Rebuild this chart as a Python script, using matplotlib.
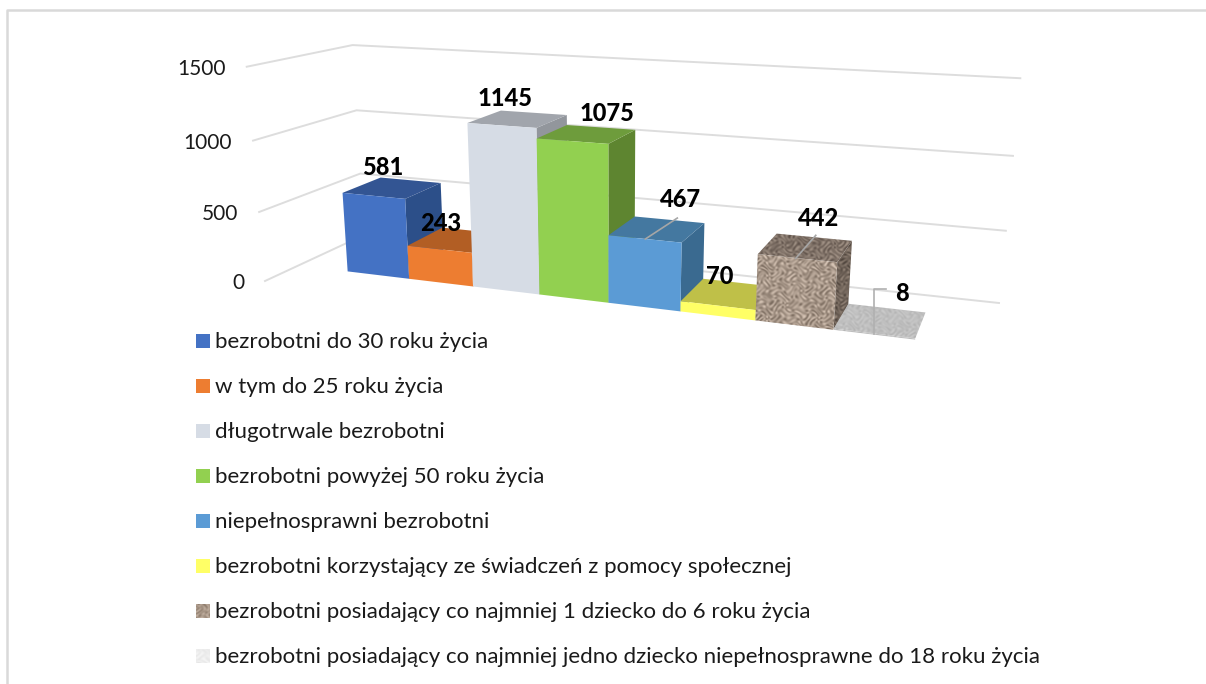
import numpy as np
import matplotlib
matplotlib.use("Agg")
import matplotlib.pyplot as plt
from matplotlib.patches import Polygon

plt.rcParams['font.family'] = ['Lato', 'DejaVu Sans']

categories = [
    "bezrobotni do 30 roku życia",
    "w tym do 25 roku życia",
    "długotrwale bezrobotni",
    "bezrobotni powyżej 50 roku życia",
    "niepełnosprawni bezrobotni",
    "bezrobotni korzystający ze świadczeń z pomocy społecznej",
    "bezrobotni posiadający co najmniej 1 dziecko do 6 roku życia",
    "bezrobotni posiadający co najmniej jedno dziecko niepełnosprawne do 18 roku życia",
]
values = [581, 243, 1145, 1075, 467, 70, 442, 8]
y_ticks = [0, 500, 1000, 1500]

# colours per bar: front, top, side (None = textured)
front_colors = ['#4472C4', '#ED7D31', '#D6DCE5', '#92D050', '#5B9BD5', '#FFFF66', None, None]
top_colors = ['#335593', '#B25E24', '#A1A5AC', '#6E9C3C', '#4478A0', '#BFC048', None, None]
side_colors = ['#2C4F89', '#B25E24', '#92969C', '#5E8530', '#3A6A90', '#BFC048', None, None]
legend_colors = ['#4472C4', '#ED7D31', '#D6DCE5', '#92D050', '#5B9BD5', '#FFFF66', '#A89888', '#EDEDED']

# label offsets from the top back centre of each bar, in pixels
label_dx = [-28, -32, -29, 6, 11, -19, 5, 15]
label_dy = [-13, -7, -14, -14, -20, -6, -19, -15]

# camera fit: (category, depth, value) -> pixel
calib_3d = [(0, 0, 0), (1, 0, 0), (4, 0, 0), (8, 0, 0), (8, 1, 0), (7, 1, 0),
            (0, 0, 581), (1, 0, 581), (0, 1, 581), (1, 1, 581),
            (2, 0, 1145), (3, 0, 1145), (2, 1, 1145), (3, 1, 1145),
            (4, 0, 1075), (4, 1, 1075), (5, 0, 467), (5, 1, 467),
            (6, 0, 442), (7, 0, 442), (6, 1, 442), (7, 1, 442)]
calib_px = [(347, 272), (409, 279), (609, 303), (916, 338), (927, 313), (845, 305),
            (343, 193), (406, 198), (381, 177), (440, 183),
            (467, 123), (536, 128), (502, 110), (566, 115),
            (608, 144), (635, 130), (682, 243), (705, 223),
            (757, 255), (837, 262), (778, 234), (852, 242)]

A = []
b = []
for (u, v, w), (px, py) in zip(calib_3d, calib_px):
    A.append([u, v, w, 1, 0, 0, 0, 0, -px * u, -px * v, -px * w])
    A.append([0, 0, 0, 0, u, v, w, 1, -py * u, -py * v, -py * w])
    b += [px, py]
cam = np.linalg.lstsq(np.array(A, float), np.array(b, float), rcond=None)[0]
cam = np.append(cam, 1).reshape(3, 4)


def proj(u, v, w):
    h = cam @ np.array([u, v, w, 1.0])
    return h[0] / h[2], h[1] / h[2]


def floor_uv(px, py):
    # pixel on the floor (value 0) back to category / depth
    H = cam[:, [0, 1, 3]]
    h = np.linalg.solve(H, np.array([px, py, 1.0]))
    return h[0] / h[2], h[1] / h[2]


def granite(xx, yy):
    # deterministic speckle: crossed sines with warped phase, no random numbers
    a = xx + 3.1 * np.sin(yy * 0.43 + 0.7) + 2.3 * np.sin(yy * 0.19 + xx * 0.11)
    c = yy + 2.9 * np.sin(xx * 0.37 + 1.9) + 2.1 * np.sin(xx * 0.23 - yy * 0.13)
    t = (np.sin(a * 1.07) + np.sin(c * 1.23) + 0.8 * np.sin((a + c) * 0.61 + 1.3)
         + 0.8 * np.sin((a - c) * 0.83 + 0.4))
    return np.clip((t + 3.0) / 6.0, 0, 1)


def textured_face(ax, pts, dark, light):
    pts = np.array(pts)
    x0, y0 = pts.min(axis=0)
    x1, y1 = pts.max(axis=0)
    xx, yy = np.meshgrid(np.arange(x0, x1 + 1), np.arange(y0, y1 + 1))
    t = granite(xx, yy)[..., None]
    img = np.array(dark) * (1 - t) + np.array(light) * t
    im = ax.imshow(img, extent=(x0, x1, y1, y0), interpolation='bilinear', zorder=3, aspect='auto')
    patch = Polygon(pts, closed=True, transform=ax.transData, fc='none', ec='none')
    ax.add_patch(patch)
    im.set_clip_path(patch)


fig = plt.figure(figsize=(12.06, 6.84), dpi=100)
ax = fig.add_axes([0, 0, 1, 1])

# chart frame
ax.plot([6.5, 6.5, 1206], [684, 10, 10], color='#D9D9D9', lw=1.8, zorder=1)

# walls: corners are picked on the floor, then everything goes through the camera
u_left, v_front = floor_uv(265, 281)
u_corner, v_back = floor_uv(364, 235)
u_right, v_right = floor_uv(999, 303)
for t in y_ticks:
    p0 = proj(u_left, v_front, t)
    p1 = proj(u_corner, v_back, t)
    p2 = proj(u_right, v_right, t)
    ax.plot([p0[0], p1[0], p2[0]], [p0[1], p1[1], p2[1]], color='#DDDDDD', lw=1.4, zorder=2)
    ax.text(p0[0] - 21, p0[1] + 2, str(t), ha='right', va='center', fontsize=15, color='#1a1a1a')

# bars, left to right so that each one covers the side of the previous one
for i, val in enumerate(values):
    front = [proj(i, 0, 0), proj(i + 1, 0, 0), proj(i + 1, 0, val), proj(i, 0, val)]
    top = [proj(i, 0, val), proj(i + 1, 0, val), proj(i + 1, 1, val), proj(i, 1, val)]
    side = [proj(i + 1, 0, 0), proj(i + 1, 1, 0), proj(i + 1, 1, val), proj(i + 1, 0, val)]
    if front_colors[i] is not None:
        ax.add_patch(Polygon(side, closed=True, fc=side_colors[i], ec='none', zorder=3))
        ax.add_patch(Polygon(top, closed=True, fc=top_colors[i], ec='none', zorder=3))
        ax.add_patch(Polygon(front, closed=True, fc=front_colors[i], ec='none', zorder=3))
    elif val > 100:
        textured_face(ax, side, (0.30, 0.26, 0.23), (0.58, 0.52, 0.47))
        textured_face(ax, top, (0.36, 0.31, 0.28), (0.64, 0.58, 0.53))
        textured_face(ax, front, (0.48, 0.42, 0.37), (0.84, 0.77, 0.71))
    else:
        textured_face(ax, top, (0.70, 0.70, 0.70), (0.80, 0.80, 0.80))
        textured_face(ax, front, (0.70, 0.70, 0.70), (0.80, 0.80, 0.80))

    cx, cy = proj(i + 0.5, 1, val)
    ax.text(cx + label_dx[i], cy + label_dy[i], str(val), ha='center', va='center',
            fontsize=17, fontweight='black', color='black', zorder=6)

# leader lines
lx, ly = proj(4.5, 0.5, values[4])
ax.plot([lx - 12, lx + 20], [ly + 10, ly - 11], color='#A6A6A6', lw=1.2, zorder=5)
lx, ly = proj(6.5, 0.5, values[6])
ax.plot([lx - 10, lx + 10], [ly + 11, ly - 12], color='#A6A6A6', lw=1.2, zorder=5)
lx, ly = proj(7.5, 0, values[7])
ax.plot([lx, lx, lx + 12], [ly + 1, ly - 44, ly - 44], color='#B0B0B0', lw=1.2, zorder=5)

# legend
for i, name in enumerate(categories):
    y = 341 + i * 45
    if i < 6:
        ax.add_patch(Polygon([(196, y - 7), (210, y - 7), (210, y + 7), (196, y + 7)],
                             closed=True, fc=legend_colors[i], ec='none'))
    else:
        dark = (0.55, 0.48, 0.42) if i == 6 else (0.90, 0.90, 0.90)
        light = (0.78, 0.71, 0.65) if i == 6 else (0.96, 0.96, 0.96)
        textured_face(ax, [(196, y - 7), (210, y - 7), (210, y + 7), (196, y + 7)], dark, light)
    ax.text(215, y + 1, name, ha='left', va='center', fontsize=16, color='#1a1a1a')

ax.set_xlim(0, 1206)
ax.set_ylim(684, 0)
ax.axis('off')
fig.savefig('out.png', dpi=100, facecolor='white')
